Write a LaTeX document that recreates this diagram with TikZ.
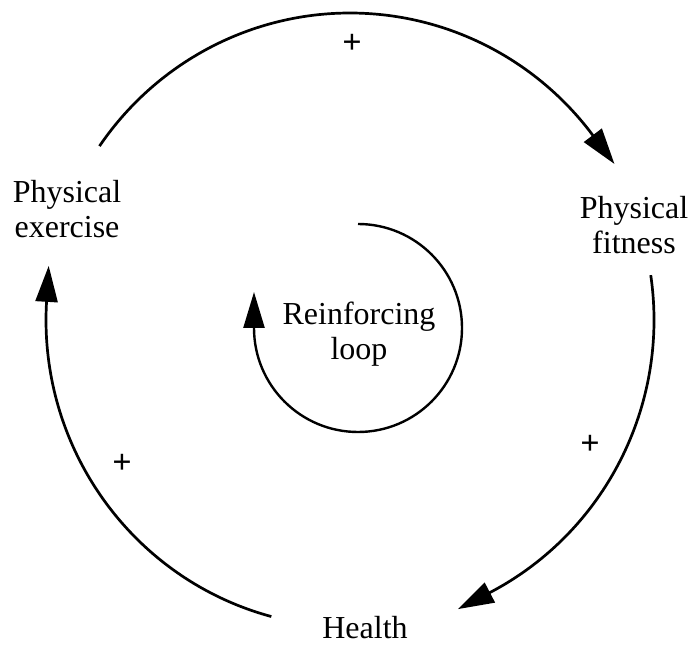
\documentclass[tikz,border=0pt]{standalone}
\usepackage{fontspec}
\setmainfont{Liberation Serif}
\usetikzlibrary{arrows.meta,calc}
\begin{document}
\begin{tikzpicture}[x=1pt,y=1pt,
  varlabel/.style={font=\fontsize{32}{35}\selectfont, align=center, inner sep=0pt},
  polarity/.style={font=\fontsize{34}{35}\selectfont\bfseries, inner sep=0pt},
  link/.style={line width=2.7pt, -{Triangle[length=36pt,width=22pt]}},
  looparrow/.style={line width=2.4pt, -{Triangle[length=36pt,width=21pt]}},
]
\fill[white] (0,0) rectangle (692,645);
\useasboundingbox (0,0) rectangle (692,645);

% centre of the outer causal loop
\coordinate (C) at (350,325);

% variables
\node[varlabel] (exercise) at (67,435.5) {Physical\\exercise};
\node[varlabel] (fitness)  at (634,419.5) {Physical\\fitness};
\node[varlabel, anchor=base] (health) at (365,7) {Health};
\node[varlabel] (loop) at (359,311) {Reinforcing\\loop};

% polarity signs
\node[polarity] (p1) at (352,601) {+};
\node[polarity] (p2) at (590,200) {+};
\node[polarity] (p3) at (122,181) {+};

% start points of the causal links on the outer ellipse
\coordinate (s1) at ($(C)+(145.5:304pt and 307pt)$);
\coordinate (s2) at ($(C)+(8.4:304pt and 307pt)$);
\coordinate (s3) at ($(C)+(-105:304pt and 307pt)$);

% exercise -> fitness
\draw[link] (s1) arc[start angle=145.5, end angle=37, x radius=304pt, y radius=307pt]
  -- ++(-53:36pt);
% fitness -> health
\draw[link] (s2) arc[start angle=8.4, end angle=-62.6, x radius=304pt, y radius=307pt]
  -- ++(-152.6:36pt);
% health -> exercise
\draw[link] (s3) arc[start angle=-105, end angle=-183.4, x radius=304pt, y radius=307pt]
  -- ++(86.6:36pt);

% inner loop symbol
\coordinate (L) at (358,317);
\coordinate (l0) at ($(L)+(0,104pt)$);
\draw[looparrow] (l0) arc[start angle=90, end angle=-180, radius=104pt] -- ++(90:36pt);
\end{tikzpicture}
\end{document}
